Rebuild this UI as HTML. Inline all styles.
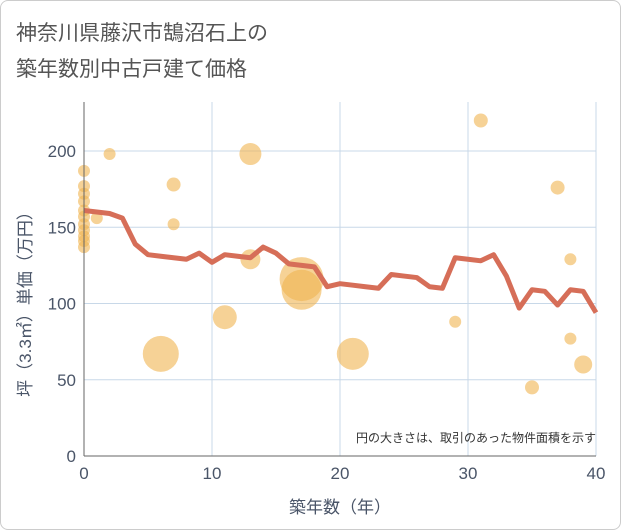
<!DOCTYPE html>
<html><head><meta charset="utf-8"><style>
body{margin:0;background:#fff;font-family:"Liberation Sans","Noto Sans CJK JP",sans-serif;}
.frame{position:absolute;left:0;top:0;width:619px;height:528px;border:1px solid #ccc;border-radius:8px;}
</style></head><body>
<div class="frame"></div>
<svg id="c" width="621" height="530" style="position:absolute;left:0;top:0">
<text x="16" y="40" font-size="21" fill="#555">神奈川県藤沢市鵠沼石上の</text>
<text x="16" y="76" font-size="21" fill="#555">築年数別中古戸建て価格</text>
<g id="grid"></g><g id="bub"></g><g id="ln"></g><g id="ax"></g>
<text x="596" y="442" font-size="12" fill="#333" text-anchor="end">円の大きさは、取引のあった物件面積を示す</text>
<text x="340" y="513" font-size="17" fill="#4a5568" text-anchor="middle">築年数（年）</text>
<text transform="translate(31,300) rotate(-90)" font-size="17" fill="#4a5568" text-anchor="middle">坪（3.3㎡）単価（万円）</text>
</svg>
<script>
const xTicks=[0,10,20,30,40];
const yTicks=[0,50,100,150,200];
const lineYears=[0,1,2,3,4,5,6,7,8,9,10,11,12,13,14,15,16,17,18,19,20,21,22,23,24,25,26,27,28,29,30,31,32,33,34,35,36,37,38,39,40];
const lineValues=[161,160,159,156,139,132,131,130,129,133,127,132,131,130,137,133,126,125,124,111,113,112,111,110,119,118,117,111,110,130,129,128,132,118,97,109,108,99,109,108,94];
const bubbleYears=[0,0,0,0,0,0,0,0,0,0,0,1,2,7,7,13,13,17,17,11,6,21,29,31,37,38,38,39,35];
const bubbleValues=[187,177,172,167,161,157,152,148,144,141,137,156,198,178,152,198,129,116,109,91,67,67,88,220,176,129,77,60,45];
const bubbleSizes=[6,6,6,6,6,6,6,6,6,6,6,6,6,7,6,11,10,22,20,12,18,16,6,7,7,6,6,9,7];
const X=v=>84+v*12.8, Y=v=>456-v*1.525;
const NS="http://www.w3.org/2000/svg";
function mk(t,a,p){const e=document.createElementNS(NS,t);for(const k in a)e.setAttribute(k,a[k]);p.appendChild(e);return e;}
const g=document.getElementById('grid'),ax=document.getElementById('ax');
xTicks.forEach(t=>{const l=mk('line',{x1:X(t),x2:X(t),y1:102,y2:456,stroke:'#c8d8e8'},g);


const tx=mk('text',{x:X(t),y:479,'font-size':17,fill:'#4a5568','text-anchor':'middle'},ax);tx.textContent=t;

});
yTicks.forEach(t=>{const l=mk('line',{x1:84,x2:596,y1:Y(t),y2:Y(t),stroke:'#c8d8e8'},g);


const tx=mk('text',{x:76,y:Y(t)+6,'font-size':17,fill:'#4a5568','text-anchor':'end'},ax);tx.textContent=t;

});
const a1=mk('line',{x1:84,x2:84,y1:102,y2:456,stroke:'#666'},ax);


const a2=mk('line',{x1:84,x2:596,y1:456,y2:456,stroke:'#666'},ax);


const b=document.getElementById('bub');
bubbleYears.forEach((yr,i)=>{const c=mk('circle',{cx:X(yr),cy:Y(bubbleValues[i]),r:bubbleSizes[i],fill:'#f0b450','fill-opacity':0.6},b);

});
const p=mk('polyline',{points:lineYears.map((y,i)=>X(y)+','+Y(lineValues[i])).join(' '),fill:'none',stroke:'#d66e58','stroke-width':5,'stroke-linejoin':'round'},document.getElementById('ln'));


</script>
</body></html>
